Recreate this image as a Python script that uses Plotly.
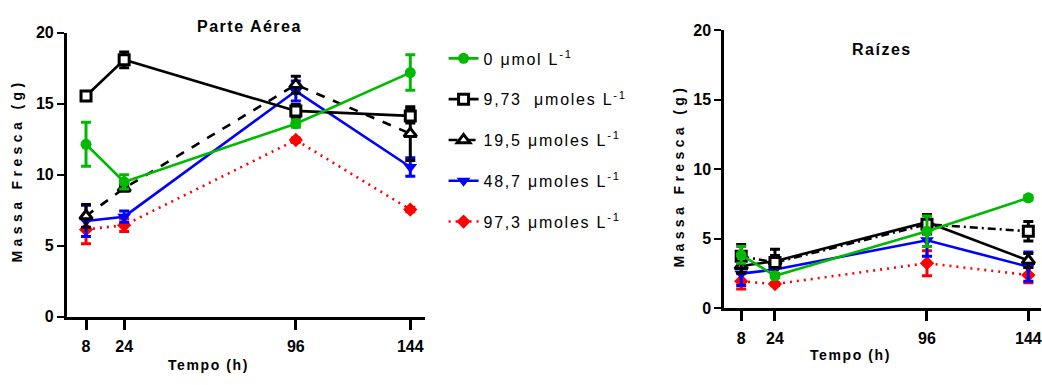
import plotly.graph_objects as go

hours = [8, 24, 96, 144]
tick_vals_x = [8, 24, 96, 144]
tick_vals_y = [0, 5, 10, 15, 20]

series_names = ["0 μmol L<sup>-1</sup>", "9,73  μmoles L<sup>-1</sup>", "19,5 μmoles L<sup>-1</sup>",
                "48,7 μmoles L<sup>-1</sup>", "97,3 μmoles L<sup>-1</sup>"]

# Parte Aérea
green_a = [12.15, 9.5, 13.6, 17.2]
green_a_err = [1.55, 0.5, 0.25, 1.25]
sq_a = [15.55, 18.1, 14.5, 14.15]
sq_a_err = [0.3, 0.55, 0.45, 0.5]
tri_a = [7.1, 9.05, 16.35, 12.9]
tri_a_err = [0.8, 0.2, 0.6, 1.9]
blue_a = [6.75, 7.05, 15.9, 10.55]
blue_a_err = [1.1, 0.4, 0.7, 0.65]
red_a = [6.15, 6.45, 12.45, 7.55]
red_a_err = [1.0, 0.45, 0.15, 0.15]

# Raízes
green_r = [3.85, 2.35, 5.55, 7.95]
green_r_err = [0.6, 0.15, 1.1, 0.15]
sq_r = [3.75, 3.3, 6.05, 5.55]
sq_r_err = [0.85, 0.95, 0.7, 0.7]
tri_r = [3.05, 3.4, 6.2, 3.45]
tri_r_err = [0.5, 0.4, 0.5, 0.5]
blue_r = [2.5, 2.8, 4.9, 3.0]
blue_r_err = [0.85, 0.3, 1.15, 1.05]
red_r = [1.95, 1.75, 3.25, 2.4]
red_r_err = [0.55, 0.1, 0.9, 0.55]

GREEN = "#00b900"
BLACK = "#000000"
BLUE = "#0000ff"
RED = "#ff0000"
FONT = "Liberation Sans, Arial, sans-serif"

styles = [
    dict(color=GREEN, symbol="circle", size=11, fill=GREEN, lw=0),
    dict(color=BLACK, symbol="square", size=10, fill="white", lw=3),
    dict(color=BLACK, symbol="triangle-up", size=11, fill="white", lw=3),
    dict(color=BLUE, symbol="triangle-down", size=12, fill=BLUE, lw=0),
    dict(color=RED, symbol="diamond", size=11, fill=RED, lw=0),
]
dash_a = ["solid", "solid", "dash", "solid", "2px,5px"]
dash_r = ["solid", "8px,4px,2px,4px", "solid", "solid", "2px,5px"]

data_a = [(green_a, green_a_err), (sq_a, sq_a_err), (tri_a, tri_a_err), (blue_a, blue_a_err), (red_a, red_a_err)]
data_r = [(green_r, green_r_err), (sq_r, sq_r_err), (tri_r, tri_r_err), (blue_r, blue_r_err), (red_r, red_r_err)]

fig = go.Figure()
order = [4, 3, 2, 1, 0]
for panel, (data, dashes, xa, ya) in enumerate([(data_a, dash_a, "x", "y"), (data_r, dash_r, "x2", "y2")]):
    for i in order:
        vals, errs = data[i]
        st = styles[i]
        fig.add_trace(go.Scatter(
            x=hours, y=vals, xaxis=xa, yaxis=ya,
            mode="lines+markers",
            name=f'<span style="letter-spacing:1.75px">{series_names[i]}</span>',
            legendgroup=f"g{i}", legendrank=i + 1,
            showlegend=(panel == 0),
            line=dict(color=st["color"], width=2.6, dash=dashes[i]),
            marker=dict(symbol=st["symbol"], size=st["size"], color=st["fill"],
                        line=dict(color=st["color"], width=st["lw"])),
            error_y=dict(type="data", array=errs, visible=True, color=st["color"], thickness=3, width=5),
            cliponaxis=False,
        ))

def xaxis(domain, anchor):
    return dict(domain=domain, anchor=anchor, range=[0, 150], tickvals=tick_vals_x,
                showgrid=False, zeroline=False, showline=True, linecolor="black", linewidth=3,
                ticks="outside", ticklen=10, tickwidth=3, tickcolor="black",
                ticklabelstandoff=3, ticklabeloverflow="allow",
                tickfont=dict(family=FONT, size=16, color="black", weight="bold"))

def yaxis(domain, anchor):
    return dict(domain=domain, anchor=anchor, range=[0, 20], tickvals=tick_vals_y,
                showgrid=False, zeroline=False, showline=True, linecolor="black", linewidth=3,
                ticks="outside", ticklen=7, tickwidth=2, tickcolor="black",
                ticklabeloverflow="allow",
                tickfont=dict(family=FONT, size=16, color="black", weight="bold"))

W, H = 1042, 385
fig.update_layout(
    width=W, height=H, autosize=False,
    margin=dict(l=0, r=0, t=0, b=0, pad=0),
    paper_bgcolor="white", plot_bgcolor="white",
    xaxis=xaxis([67 / W, 425 / W], "y"),
    yaxis=yaxis([(H - 323) / H, (H - 26) / H], "x"),
    xaxis2=xaxis([725 / W, 1.0], "y2"),
    yaxis2=yaxis([(H - 314.3) / H, (H - 23.3) / H], "x2"),
    legend=dict(x=444 / W, y=1 - 35 / H, xanchor="left", yanchor="top",
                font=dict(family=FONT, size=16, color="black"),
                tracegroupgap=17, bgcolor="rgba(0,0,0,0)", itemwidth=30),
    showlegend=True,
)

def ann(text, x, y, size, spacing, angle=0):
    fig.add_annotation(text=f'<span style="letter-spacing:{spacing}px">{text}</span>',
                       x=x / W, y=1 - y / H, xref="paper", yref="paper",
                       xanchor="center", yanchor="middle",
                       showarrow=False, textangle=angle,
                       font=dict(family=FONT, size=size, color="black", weight="bold"))

ann("Parte Aérea", 250, 19, 16, 1.5)
ann("Raízes", 883, 43, 16, 1.5)
ann("Massa Fresca (g)", 18, 170, 14, 4.4, -90)
ann("Massa Fresca (g)", 680, 175, 14, 4.4, -90)
ann("Tempo (h)", 209, 373, 14, 1.6)
ann("Tempo (h)", 851, 363, 14, 1.6)

css = ("var s=document.createElement('style');"
       "s.textContent='html,body{margin:0!important;padding:0!important;overflow:hidden!important;"
       "width:1042px;height:385px;}';"
       "document.head.appendChild(s);")

fig.write_html(
    "out.html",
    config={"displayModeBar": False, "responsive": False},
    post_script=css,
)
